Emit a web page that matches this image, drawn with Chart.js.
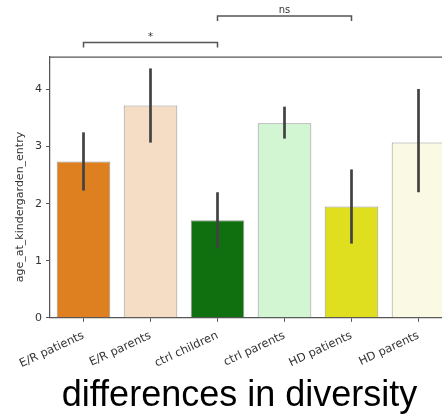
<!DOCTYPE html>
<html>
<head>
<meta charset="utf-8">
<script src="https://cdn.jsdelivr.net/npm/chart.js@4"></script>
<style>
  html, body { margin: 0; padding: 0; background: #fff; overflow: hidden; }
  #wrap { width: 442px; height: 418px; overflow: hidden; position: relative; }
  #chart { position: absolute; left: 0; top: 0; }
</style>
</head>
<body>
<div id="wrap">
  <canvas id="chart" width="479" height="418"></canvas>
</div>
<script>
const categories = ['E/R patients', 'E/R parents', 'ctrl children', 'ctrl parents', 'HD patients', 'HD parents'];
const means = [2.74, 3.72, 1.71, 3.41, 1.95, 3.07];
const ciLow = [2.23, 3.07, 1.22, 3.14, 1.30, 2.20];
const ciHigh = [3.25, 4.37, 2.20, 3.70, 2.60, 4.01];
const barColors = ['#DF8020', '#F5DDC5', '#107010', '#D1F6D1', '#DFDF20', '#FAFAE4'];
const yTicks = [0, 1, 2, 3, 4];
const yMax = 4.57;
// significance brackets: from / to are category indexes
const bracketFrom = [0, 2];
const bracketTo = [2, 4];
const bracketText = ['*', 'ns'];

const spineColor = '#555';

// error bars, brackets, top/right spines, y-axis label
const extras = {
    id: 'extras',
    afterDatasetsDraw(chart) {
        const ctx = chart.ctx;
        const x = chart.scales.x, y = chart.scales.y;
        const area = chart.chartArea;
        ctx.save();

        // error bars
        ctx.strokeStyle = '#424242';
        ctx.lineWidth = 2.7;
        for (let i = 0; i < categories.length; i++) {
            const px = x.getPixelForValue(i);
            ctx.beginPath();
            ctx.moveTo(px, y.getPixelForValue(ciLow[i]));
            ctx.lineTo(px, y.getPixelForValue(ciHigh[i]));
            ctx.stroke();
        }

        // top and right spines
        ctx.strokeStyle = spineColor;
        ctx.lineWidth = 1.25;
        ctx.beginPath();
        ctx.moveTo(area.left, area.top);
        ctx.lineTo(area.right, area.top);
        ctx.lineTo(area.right, area.bottom);
        ctx.stroke();

        // brackets
        ctx.lineWidth = 1.5;
        ctx.fillStyle = '#333';
        ctx.font = '10px "DejaVu Sans"';
        ctx.textAlign = 'center';
        ctx.textBaseline = 'alphabetic';
        for (let k = 0; k < bracketFrom.length; k++) {
            const x1 = x.getPixelForValue(bracketFrom[k]);
            const x2 = x.getPixelForValue(bracketTo[k]);
            const ly = area.top - 14.5 - k * 26.5;
            ctx.beginPath();
            ctx.moveTo(x1, ly + 5);
            ctx.lineTo(x1, ly);
            ctx.lineTo(x2, ly);
            ctx.lineTo(x2, ly + 5);
            ctx.stroke();
            ctx.fillText(bracketText[k], (x1 + x2) / 2, ly - 3);
        }

        // y axis label
        ctx.translate(20, 207);
        ctx.rotate(-Math.PI / 2);
        ctx.font = '11px "DejaVu Sans"';
        ctx.textBaseline = 'middle';
        ctx.fillText('age_at_kindergarden_entry', 0, 0);
        ctx.restore();
    }
};

new Chart(document.getElementById('chart'), {
    type: 'bar',
    data: {
        labels: categories,
        datasets: [{
            data: means,
            backgroundColor: barColors,
            borderColor: 'rgba(110,110,110,0.7)',
            borderWidth: 1,
            barPercentage: 0.8,
            categoryPercentage: 1.0
        }]
    },
    options: {
        responsive: false,
        animation: false,
        layout: { padding: { left: 27, right: 27, top: 57, bottom: 0 } },
        plugins: {
            legend: { display: false },
            tooltip: { enabled: false },
            title: {
                display: true,
                position: 'bottom',
                text: 'differences in diversity',
                color: '#000',
                font: { family: '"Liberation Sans", Arial', size: 36, weight: 'normal' },
                padding: { top: 0, bottom: 0 }
            }
        },
        scales: {
            x: {
                offset: true,
                grid: { offset: false, drawOnChartArea: false, drawTicks: true, tickLength: 4, color: spineColor, lineWidth: 1 },
                border: { display: true, color: spineColor, width: 1.25 },
                ticks: {
                    color: '#333',
                    font: { family: '"DejaVu Sans"', size: 11.5 },
                    minRotation: 25,
                    maxRotation: 25,
                    padding: 7
                },
                afterFit(scale) { scale.height = 57; }
            },
            y: {
                min: 0,
                max: yMax,
                grid: { drawOnChartArea: false, drawTicks: true, tickLength: 4, color: spineColor, lineWidth: 1 },
                border: { display: true, color: spineColor, width: 1.25 },
                ticks: {
                    color: '#333',
                    font: { family: '"DejaVu Sans"', size: 11 },
                    padding: 4
                },
                afterBuildTicks(scale) { scale.ticks = yTicks.map(v => ({ value: v })); },
                afterFit(scale) { scale.width = 23; }
            }
        }
    },
    plugins: [extras]
});
</script>
</body>
</html>
